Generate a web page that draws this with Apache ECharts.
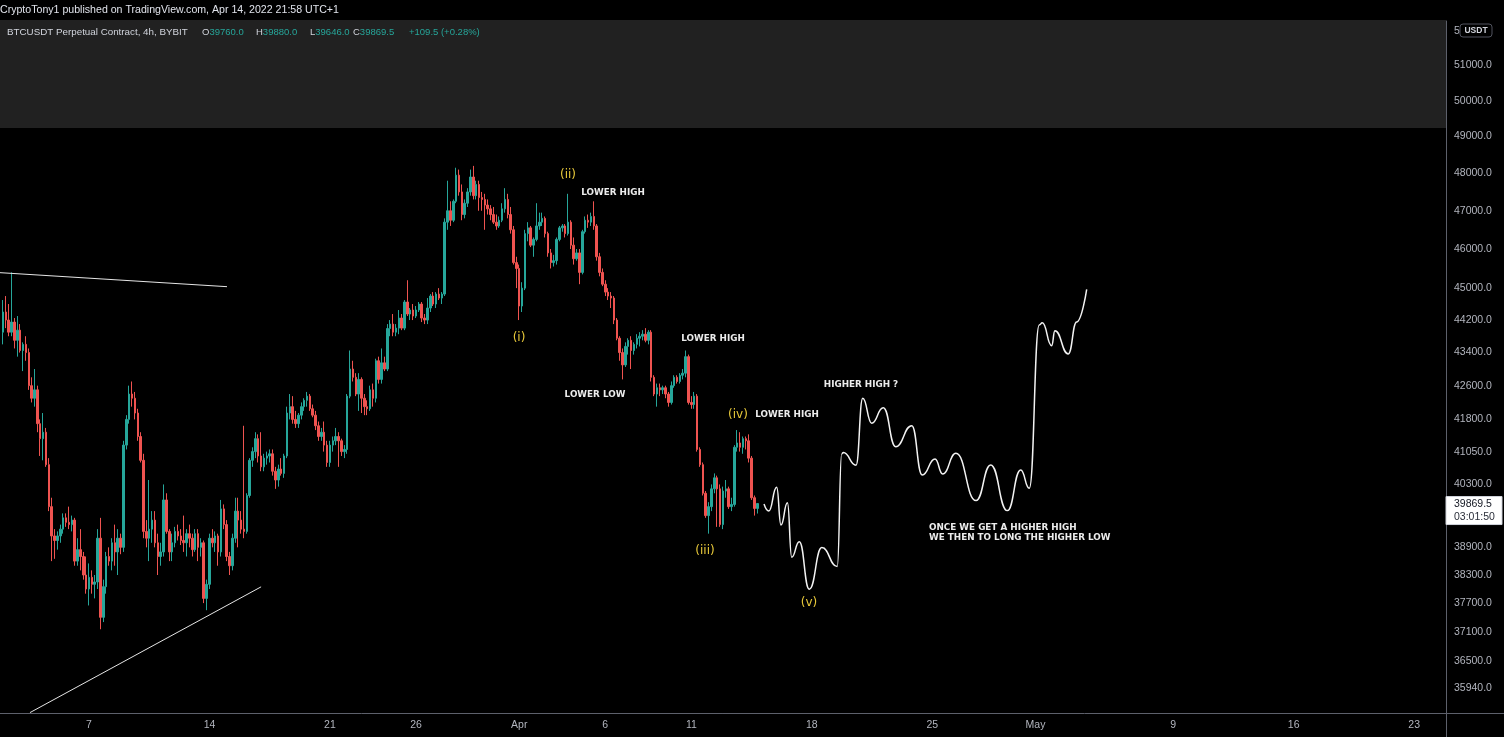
<!DOCTYPE html>
<html>
<head>
<meta charset="UTF-8">
<title>BTCUSDT Perpetual Contract, 4h</title>
<script src="https://cdn.jsdelivr.net/npm/echarts@6.0.0/dist/echarts.min.js"></script>
<style>
  html, body { margin: 0; padding: 0; background: #000; }
  #main { width: 1504px; height: 737px; }
</style>
</head>
<body>
<div id="main"></div>
<script>
// 4h candles from 2 Mar 2022 00:00, rows are [open, high, low, close]
var candleStart = Date.UTC(2022, 2, 2, 0, 0);
var ohlc = [
  [43900,44700,43600,44400],[44400,44800,44000,44200],[44200,44600,43800,43900],[43900,45400,43800,44150],[44150,44250,43500,43700],[43700,44300,43300,43950],
  [43950,44100,43400,43450],[43450,43650,42950,43600],[43600,43800,43200,43400],[43400,43500,42500,42600],[42600,42800,42200,42300],[42300,43000,42100,42500],
  [42500,42600,41500,41700],[41700,41800,40950,41350],[41350,41950,40850,41500],[41500,41600,40700,40750],[40750,40900,39700,39800],[39800,40000,38600,39150],
  [39150,39300,38650,39050],[39050,39250,38850,39150],[39150,39400,39000,39300],[39300,39650,39200,39550],[39550,39650,39350,39450],[39450,39800,39300,39400],
  [39400,39600,39250,39500],[39500,39550,38500,38600],[38600,39100,38500,38850],[38850,39300,38400,38700],[38700,38800,38200,38300],[38300,38700,37900,38000],
  [38000,38550,37650,38250],[38250,38400,37900,38100],[38100,38300,37800,38150],[38150,39300,38000,39100],[39100,39550,37150,37400],[37400,38200,37300,38050],
  [38050,38800,37900,38700],[38700,38900,38500,38600],[38600,39100,38400,39000],[39000,39400,38500,38800],[38800,39300,38300,39100],[39100,39200,38750,38900],
  [38900,41300,38800,41200],[41200,41900,41100,41800],[41800,42600,41700,42400],[42400,42700,42100,42300],[42300,42450,41800,41950],[41950,42050,41300,41400],
  [41400,41500,40800,40850],[40850,41000,39100,39250],[39250,39500,38900,39100],[39100,40400,38600,39300],[39300,39700,39000,39500],[39500,39700,38900,39000],
  [39000,39200,38300,38700],[38700,39000,38500,38800],[38800,40300,38700,39950],[39950,40100,39200,39250],[39250,39300,38600,38800],[38800,39200,38600,39000],
  [39000,39350,38900,39250],[39250,39400,39050,39150],[39150,39300,38950,39050],[39050,39600,38800,39000],[39000,39300,38700,39200],[39200,39400,38900,39100],
  [39100,39200,38700,38850],[38850,39300,38800,39200],[39200,39300,38600,38900],[38900,39100,38700,39000],[39000,39050,37700,37800],[37800,38200,37550,38100],
  [38100,39200,38000,39100],[39100,39300,38900,39000],[39000,39250,38800,39150],[39150,39200,38500,38800],[38800,39950,38700,39750],[39750,39850,39300,39400],
  [39400,39500,38600,38700],[38700,38800,38300,38500],[38500,39200,38400,39100],[39100,40000,39000,39700],[39700,40000,38900,39500],[39500,39700,39200,39300],
  [39300,41650,39100,39250],[39250,40100,39200,40050],[40050,40900,40000,40850],[40850,41150,40700,41050],[41050,41500,40900,41350],[41350,41450,40800,40950],
  [40950,41500,40600,40700],[40700,41000,40600,40900],[40900,41050,40750,40950],[40950,41100,40800,41000],[41000,41100,40500,40600],[40600,40700,40200,40400],
  [40400,40750,40250,40650],[40650,40900,40500,40550],[40550,41000,40450,40950],[40950,42100,40900,41950],[41950,42400,41800,42100],[42100,42350,41700,41800],
  [41800,42000,41600,41700],[41700,41950,41600,41900],[41900,42200,41800,42100],[42100,42300,42000,42250],[42250,42450,42100,42350],[42350,42400,42000,42050],
  [42050,42150,41850,41900],[41900,42000,41550,41650],[41650,41750,41300,41400],[41400,41600,41300,41500],[41500,41750,41050,41200],[41200,41300,40700,40800],
  [40800,41300,40700,41200],[41200,41400,41050,41300],[41300,41600,41200,41400],[41400,41500,40700,41300],[41300,41350,40950,41050],[41050,41200,40900,41100],
  [41100,42400,41000,42350],[42350,43450,42300,43000],[43000,43200,42700,42800],[42800,42900,42350,42400],[42400,42900,42000,42750],[42750,42800,41950,42300],
  [42300,42400,41900,42100],[42100,42250,41900,42050],[42050,42600,42000,42500],[42500,42650,42100,42300],[42300,43250,42200,43200],[43200,43300,42650,42750],
  [42750,43500,42650,43150],[43150,43300,42950,43000],[43000,44100,42950,43990],[43990,44200,43800,44100],[44100,44350,43800,43900],[43900,44100,43800,44000],
  [44000,44450,43850,44250],[44250,44350,43950,44000],[44000,44700,43950,44650],[44650,45200,44300,44350],[44350,44500,44200,44450],[44450,44600,44200,44300],
  [44300,44550,44250,44450],[44450,44650,44400,44600],[44600,44650,44150,44250],[44250,44350,44100,44200],[44200,44750,44100,44500],[44500,44850,44400,44800],
  [44800,44900,44550,44600],[44600,44900,44500,44850],[44850,45000,44700,44750],[44750,44900,44600,44850],[44850,46800,44800,46700],[46700,47800,46500,47000],
  [47000,47250,46600,46750],[46750,47300,46700,47250],[47250,48150,47200,47950],[47950,48100,47400,47500],[47500,47700,46750,46900],[46900,47300,46800,47200],
  [47200,47600,47100,47500],[47500,48100,47400,47900],[47900,48200,47300,47400],[47400,47800,47300,47700],[47700,47800,47000,47350],[47350,47500,47000,47300],
  [47300,47450,46500,47150],[47150,47300,46900,47050],[47050,47150,46750,46900],[46900,47100,46650,46700],[46700,46900,46500,46600],[46600,46850,46550,46750],
  [46750,47200,46700,47050],[47050,47600,46950,47300],[47300,47450,46800,46900],[46900,47100,46400,46500],[46500,46600,45600,45650],[45650,45800,45000,45500],
  [45500,45600,44200,44550],[44550,45150,44400,45000],[45000,46500,44950,46400],[46400,46700,46200,46550],[46550,46600,46050,46100],[46100,46300,45800,46250],
  [46250,47200,46200,46600],[46600,46950,46500,46700],[46700,46950,46600,46800],[46800,46850,46300,46400],[46400,46450,45800,45900],[45900,46000,45500,45650],
  [45650,45850,45550,45700],[45700,46300,45600,46250],[46250,46600,46200,46550],[46550,46650,46450,46600],[46600,46650,46300,46400],[46400,47450,46350,46700],
  [46700,46750,46000,46100],[46100,46300,45600,45750],[45750,46000,45700,45900],[45900,46000,45100,45400],[45400,46500,45350,46450],[46450,46850,46400,46750],
  [46750,46900,46550,46700],[46700,46950,46600,46850],[46850,47250,46500,46600],[46600,46650,45700,45800],[45800,45900,45300,45400],[45400,45500,45050,45100],
  [45100,45200,44800,44900],[44900,45000,44700,44800],[44800,44900,44500,44750],[44750,44800,44100,44200],[44200,44250,43700,43750],[43750,43800,43200,43400],
  [43400,43500,42750,43100],[43100,43650,43050,43550],[43550,43750,43350,43700],[43700,43800,43000,43450],[43450,43650,43350,43600],[43600,43850,43500,43750],
  [43750,43900,43550,43800],[43800,43950,43700,43850],[43850,44000,43650,43700],[43700,43950,43600,43900],[43900,43950,42700,42800],[42800,42850,42350,42400],
  [42400,42650,42100,42550],[42550,42650,42350,42500],[42500,42600,42400,42550],[42550,42600,42300,42400],[42400,42450,42100,42200],[42200,42700,42150,42600],
  [42600,42850,42550,42800],[42800,42850,42650,42700],[42700,42900,42650,42850],[42850,43000,42750,42900],[42900,43450,42800,43300],[43300,43350,42150,42200],
  [42200,42350,42050,42150],[42150,42450,42050,42350],[42350,42400,41050,41100],[41100,41150,40700,40750],[40750,40800,40050,40100],[40100,40150,39550,39600],
  [39600,39900,39200,39800],[39800,40300,39700,40200],[40200,40550,40100,40450],[40450,40500,39350,40200],[40200,40300,39350,39400],[39400,40250,39300,40150],
  [40150,40400,40000,40200],[40200,40250,39750,39800],[39800,40000,39700,39850],[39850,41200,39800,41150],[41150,41550,41050,41250],[41250,41500,41050,41150],
  [41150,41400,41000,41350],[41350,41400,41100,41300],[41300,41450,40800,40900],[40900,40950,39950,40000],[40000,40050,39600,39760],[39760,39880,39646,39869.5]
];

// right axis price labels
var priceTicks = [52000, 51000, 50000, 49000, 48000, 47000, 46000, 45000, 44200, 43400, 42600, 41800, 41050, 40300, 38900, 38300, 37700, 37100, 36500, 35940];

// bottom axis labels
var dateTicks = ['2022-03-07', '2022-03-14', '2022-03-21', '2022-03-26', '2022-04-01', '2022-04-06', '2022-04-11', '2022-04-18', '2022-04-25', '2022-05-01', '2022-05-09', '2022-05-16', '2022-05-23'];
var dateLabels = ['7', '14', '21', '26', 'Apr', '6', '11', '18', '25', 'May', '9', '16', '23'];

// hand drawn lines [time, price]
var upperTrend = [['2022-03-01T19:53Z', 45393], ['2022-03-15T00:28Z', 45037]];
var lowerTrend = [['2022-03-03T13:40Z', 35450], ['2022-03-17T00:00Z', 38046]];
var projection = [
  ['2022-04-15T05:20Z', 39860], ['2022-04-15T12:00Z', 39704], ['2022-04-15T23:00Z', 40236], ['2022-04-16T05:00Z', 39393],
  ['2022-04-16T14:00Z', 39889], ['2022-04-16T20:00Z', 38685], ['2022-04-17T06:30Z', 39025], ['2022-04-17T20:30Z', 37996],
  ['2022-04-18T14:00Z', 38894], ['2022-04-19T11:30Z', 38481], ['2022-04-19T17:40Z', 40996], ['2022-04-19T20:00Z', 41030],
  ['2022-04-20T13:40Z', 40737], ['2022-04-20T23:00Z', 42300], ['2022-04-21T11:30Z', 41710], ['2022-04-22T03:40Z', 42077],
  ['2022-04-22T21:00Z', 41165], ['2022-04-23T19:20Z', 41653], ['2022-04-24T10:00Z', 40515], ['2022-04-25T03:50Z', 40881],
  ['2022-04-25T14:30Z', 40538], ['2022-04-26T09:00Z', 41012], ['2022-04-27T13:00Z', 39935], ['2022-04-28T09:30Z', 40744],
  ['2022-04-29T08:40Z', 39711], ['2022-04-30T03:20Z', 40630], ['2022-04-30T15:20Z', 40213], ['2022-05-01T05:10Z', 44078],
  ['2022-05-01T09:30Z', 44135], ['2022-05-01T22:30Z', 43569], ['2022-05-02T03:00Z', 43937], ['2022-05-02T21:40Z', 43366],
  ['2022-05-03T09:20Z', 44152], ['2022-05-03T23:20Z', 44971]
];

var H4 = 4 * 3600 * 1000;
var candles = ohlc.map(function (r, i) {
  return [candleStart + i * H4, r[0], r[3], r[2], r[1]];
});
var tickTimes = dateTicks.map(function (d) { return Date.parse(d + 'T00:00:00Z'); });
function toTs(pts) {
  return pts.map(function (p) { return [Date.parse(p[0].replace('Z', ':00Z')), p[1]]; });
}

var UP = '#26a69a', DOWN = '#ef5350';
var FONT = '"DejaVu Sans", sans-serif';
var UI = '"Liberation Sans", Arial, sans-serif';
var lineCol = '#5d606b';

var chart = echarts.init(document.getElementById('main'));
chart.setOption({
  backgroundColor: '#000000',
  animation: false,
  grid: { left: 0, right: 58, top: 21, bottom: 24, outerBoundsMode: 'none' },
  xAxis: {
    type: 'value',
    min: Date.UTC(2022, 2, 1, 19, 53),
    max: Date.UTC(2022, 4, 24, 20, 25),
    axisLine: { show: true, lineStyle: { color: lineCol, width: 1 } },
    axisTick: { show: false },
    splitLine: { show: false },
    axisLabel: {
      customValues: tickTimes,
      formatter: function (v) {
        var k = tickTimes.indexOf(+v);
        return k >= 0 ? dateLabels[k] : '';
      },
      color: '#b2b5be', fontSize: 10.5, fontFamily: UI, margin: 7
    }
  },
  yAxis: {
    type: 'log',
    logBase: 10,
    position: 'right',
    min: 35442,
    max: 52289,
    axisLine: { show: true, lineStyle: { color: lineCol, width: 1 } },
    axisTick: { show: false },
    splitLine: { show: false },
    axisLabel: {
      customValues: priceTicks,
      formatter: function (v) { return (+v).toFixed(1); },
      color: '#b2b5be', fontSize: 10.5, fontFamily: UI, margin: 8
    }
  },
  series: [
    {
      type: 'candlestick',
      data: candles,
      encode: { x: 0, y: [1, 2, 3, 4] },
      barWidth: 2,
      itemStyle: { color: UP, color0: DOWN, borderColor: UP, borderColor0: DOWN, borderWidth: 1 }
    },
    {
      type: 'line', data: toTs(upperTrend), symbol: 'none', z: 3,
      lineStyle: { color: '#e6e6e6', width: 1 }
    },
    {
      type: 'line', data: toTs(lowerTrend), symbol: 'none', z: 3,
      lineStyle: { color: '#e6e6e6', width: 1 }
    },
    {
      type: 'line', data: toTs(projection), symbol: 'none', z: 3,
      smooth: 0.5, smoothMonotone: 'x',
      lineStyle: { color: '#f2f2f2', width: 1.5 }
    }
  ]
});

var last = ohlc[ohlc.length - 1];
var prevClose = ohlc[ohlc.length - 2][3];
var chg = last[3] - prevClose;
var py = chart.convertToPixel({ yAxisIndex: 0 }, last[3]);

function txt(s, x, y, fill, size, weight, align, family) {
  return {
    type: 'text', x: x, y: y, z: 10,
    style: {
      text: s, fill: fill, fontSize: size, fontFamily: family || FONT, fontWeight: weight || 'normal',
      textAlign: align || 'center', textVerticalAlign: 'middle'
    }
  };
}
function ohlcItem(k, v, x) {
  return {
    type: 'text', x: x, y: 32, z: 10,
    style: {
      text: '{k|' + k + '}{v|' + v + '}', textVerticalAlign: 'middle',
      rich: {
        k: { fill: '#d1d4dc', fontSize: 9.5, fontFamily: UI },
        v: { fill: UP, fontSize: 9.5, fontFamily: UI }
      }
    }
  };
}

var YEL = '#e8c93a', WHT = '#ececec';
chart.setOption({
  graphic: [
    { type: 'rect', z: 0, shape: { x: 0, y: 20, width: 1446, height: 108 }, style: { fill: '#212121' } },
    { type: 'rect', z: 0, shape: { x: 0, y: 0, width: 1504, height: 20 }, style: { fill: '#000000' } },
    txt('CryptoTony1 published on TradingView.com, Apr 14, 2022 21:58 UTC+1', 0, 10, '#e0e3eb', 10.6, 'normal', 'left', UI),
    txt('BTCUSDT Perpetual Contract, 4h, BYBIT', 7, 32, '#d1d4dc', 9.8, 'normal', 'left', UI),
    ohlcItem('O', last[0].toFixed(1), 202),
    ohlcItem('H', last[1].toFixed(1), 256),
    ohlcItem('L', last[2].toFixed(1), 310),
    ohlcItem('C', last[3].toFixed(1), 353),
    txt('+' + chg.toFixed(1) + ' (+' + (chg / prevClose * 100).toFixed(2) + '%)', 409, 32, UP, 9.5, 'normal', 'left', UI),

    // wave counts and notes
    txt('(ii)', 568, 175, YEL, 12),
    txt('(i)', 519, 338, YEL, 12),
    txt('(iii)', 705, 551, YEL, 12),
    txt('(iv)', 738, 415, YEL, 12),
    txt('(v)', 809, 603, YEL, 12),
    txt('LOWER HIGH', 613, 193, WHT, 8.8, 'bold'),
    txt('LOWER HIGH', 713, 339, WHT, 8.8, 'bold'),
    txt('LOWER LOW', 595, 395, WHT, 8.8, 'bold'),
    txt('LOWER HIGH', 787, 415, WHT, 8.8, 'bold'),
    txt('HIGHER HIGH ?', 861, 385, WHT, 8.8, 'bold'),
    txt('ONCE WE GET A HIGHER HIGH', 929, 528, WHT, 8.8, 'bold', 'left'),
    txt('WE THEN TO LONG THE HIGHER LOW', 929, 538, WHT, 8.8, 'bold', 'left'),

    // last price box
    { type: 'rect', z: 10, shape: { x: 1446, y: py - 7, width: 56, height: 28 }, style: { fill: '#ffffff', stroke: '#d1d4dc', lineWidth: 1 } },
    txt(last[3].toFixed(1), 1454, py + 1, '#131722', 10.5, 'normal', 'left', UI),
    txt('03:01:50', 1454, py + 14, '#2a2e39', 10.5, 'normal', 'left', UI),

    // currency badge
    { type: 'rect', z: 10, shape: { x: 1460, y: 24, width: 32, height: 13, r: 3 }, style: { fill: '#000000', stroke: '#50535e', lineWidth: 1 } },
    txt('USDT', 1476, 30.5, '#d1d4dc', 8.5, 'bold', 'center', UI),

    // axis corner lines
    { type: 'line', z: 10, shape: { x1: 1446.5, y1: 713, x2: 1446.5, y2: 737 }, style: { stroke: lineCol, lineWidth: 1 } },
    { type: 'line', z: 10, shape: { x1: 1446, y1: 713.5, x2: 1504, y2: 713.5 }, style: { stroke: lineCol, lineWidth: 1 } }
  ]
});
</script>
</body>
</html>
